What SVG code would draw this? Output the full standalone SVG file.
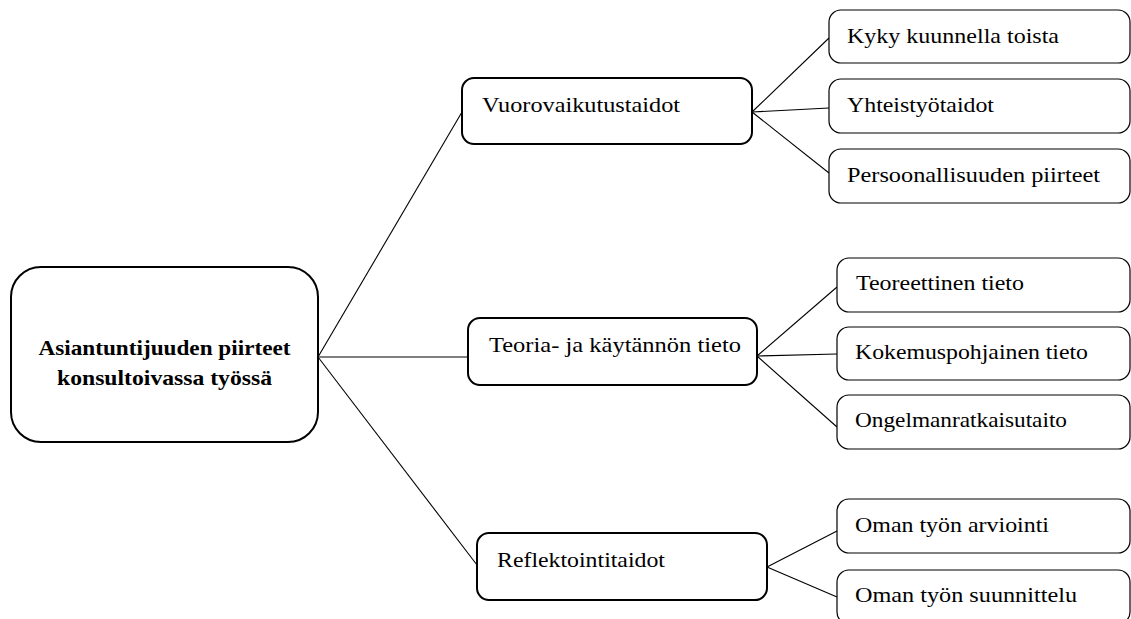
<svg xmlns="http://www.w3.org/2000/svg" width="1131" height="619" viewBox="0 0 1131 619">
<style>
.bg{fill:#ffffff}
.root{fill:#ffffff;stroke:#000;stroke-width:2}
.mid{fill:#ffffff;stroke:#000;stroke-width:2}
.leaf{fill:#ffffff;stroke:#000;stroke-width:1.2}
.conn line{stroke:#000;stroke-width:1.1}
text{font-family:"Liberation Serif","Times New Roman",serif;font-size:22px;fill:#000}
.b{font-weight:bold}
</style>
<rect class="bg" x="0" y="0" width="1131" height="619"/>
<g id="connectors" class="conn">
<line x1="318" y1="357" x2="462" y2="112"/>
<line x1="318" y1="357" x2="468" y2="357"/>
<line x1="318" y1="357" x2="477" y2="565"/>
<line x1="752" y1="112" x2="829" y2="38"/>
<line x1="752" y1="112" x2="829" y2="108"/>
<line x1="752" y1="112" x2="829" y2="173"/>
<line x1="757" y1="356" x2="837" y2="287"/>
<line x1="757" y1="356" x2="837" y2="354"/>
<line x1="757" y1="356" x2="837" y2="427"/>
<line x1="767" y1="567" x2="837" y2="531"/>
<line x1="767" y1="567" x2="837" y2="597"/>
</g>
<g id="root">
<rect class="root" x="11" y="267" width="307" height="175" rx="30"/>
<text class="b" x="164.5" y="355" text-anchor="middle" textLength="252" lengthAdjust="spacingAndGlyphs">Asiantuntijuuden piirteet</text>
<text class="b" x="164.5" y="385" text-anchor="middle" textLength="215" lengthAdjust="spacingAndGlyphs">konsultoivassa työssä</text>
</g>
<g id="vuorovaikutustaidot">
<rect class="mid" x="462" y="78" width="290" height="66" rx="12"/>
<text x="482" y="112" textLength="198" lengthAdjust="spacingAndGlyphs">Vuorovaikutustaidot</text>
</g>
<g id="teoria">
<rect class="mid" x="468" y="318" width="289" height="67" rx="12"/>
<text x="489" y="352" textLength="252" lengthAdjust="spacingAndGlyphs">Teoria- ja käytännön tieto</text>
</g>
<g id="reflektointitaidot">
<rect class="mid" x="477" y="533" width="290" height="67" rx="12"/>
<text x="497" y="567" textLength="168" lengthAdjust="spacingAndGlyphs">Reflektointitaidot</text>
</g>
<g id="kyky">
<rect class="leaf" x="829" y="10" width="301" height="53" rx="12"/>
<text x="847" y="43" textLength="212" lengthAdjust="spacingAndGlyphs">Kyky kuunnella toista</text>
</g>
<g id="yhteistyotaidot">
<rect class="leaf" x="829" y="79" width="301" height="54" rx="12"/>
<text x="847" y="112" textLength="147" lengthAdjust="spacingAndGlyphs">Yhteistyötaidot</text>
</g>
<g id="persoonallisuus">
<rect class="leaf" x="829" y="149" width="301" height="54" rx="12"/>
<text x="847" y="182" textLength="253" lengthAdjust="spacingAndGlyphs">Persoonallisuuden piirteet</text>
</g>
<g id="teoreettinen">
<rect class="leaf" x="837" y="258" width="293" height="54" rx="12"/>
<text x="856" y="290" textLength="168" lengthAdjust="spacingAndGlyphs">Teoreettinen tieto</text>
</g>
<g id="kokemus">
<rect class="leaf" x="837" y="327" width="293" height="53" rx="12"/>
<text x="855" y="359" textLength="233" lengthAdjust="spacingAndGlyphs">Kokemuspohjainen tieto</text>
</g>
<g id="ongelma">
<rect class="leaf" x="837" y="395" width="293" height="54" rx="12"/>
<text x="855" y="427" textLength="212" lengthAdjust="spacingAndGlyphs">Ongelmanratkaisutaito</text>
</g>
<g id="arviointi">
<rect class="leaf" x="837" y="499" width="293" height="54" rx="12"/>
<text x="855" y="532" textLength="194" lengthAdjust="spacingAndGlyphs">Oman työn arviointi</text>
</g>
<g id="suunnittelu">
<rect class="leaf" x="837" y="570" width="293" height="54" rx="12"/>
<text x="855" y="602" textLength="222" lengthAdjust="spacingAndGlyphs">Oman työn suunnittelu</text>
</g>
</svg>
